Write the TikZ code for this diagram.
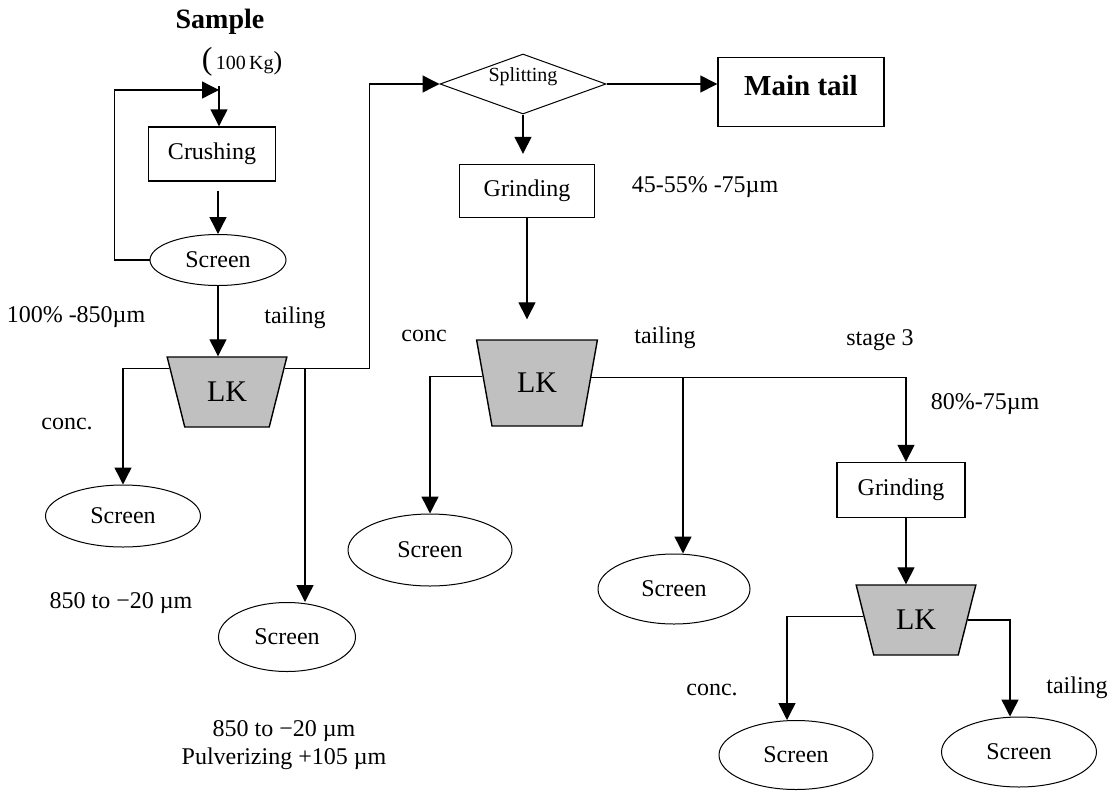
\documentclass[tikz,border=0pt]{standalone}
\usepackage{fontspec}
\setmainfont{Liberation Serif}
\usetikzlibrary{arrows.meta,shapes.geometric,calc}
\definecolor{lkgray}{RGB}{192,192,192}
\begin{document}
\begin{tikzpicture}[x=0.5pt,y=-0.5pt,line width=0.7pt,
    >={Triangle[length=8.5pt,width=8.5pt]},
    box/.style={draw,rectangle,inner sep=0pt,font=\fontsize{12}{14}\selectfont},
    screen/.style={draw,ellipse,line width=0.5pt,inner sep=0pt,font=\fontsize{12}{14}\selectfont},
    lk/.style={draw,fill=lkgray,trapezium,shape border rotate=180,trapezium stretches=true,
      trapezium angle=67,minimum width=60pt,minimum height=35pt,inner sep=0pt,font=\fontsize{15}{16}\selectfont},
    lbl/.style={inner sep=0pt,font=\fontsize{12}{14}\selectfont}]
                      \useasboundingbox (0,0) rectangle (1114,798);
                      \node[font=\fontsize{14}{16}\selectfont\bfseries] (sample) at (220,22) {Sample};
                      \node (kg) at (242,62) {{\fontsize{16}{16}\selectfont(}\,{\fontsize{10}{12}\selectfont 100\,Kg}{\fontsize{13}{16}\selectfont)}};
                      \coordinate (feed) at (219,90);
                      \node[box,minimum width=63.5pt,minimum height=27pt] (crush) at (212,154) {Crushing};
                      \node[screen,minimum width=68pt,minimum height=25.5pt] (scr1) at (218,260) {Screen};
                      \node[lk] (lk1) at (227,392) {LK};
                      \node[screen,minimum width=77.5pt,minimum height=31pt] (scr2) at (123,516) {Screen};
                      \node[screen,minimum width=68.5pt,minimum height=34.5pt] (scr3) at (287,637) {Screen};
                      \node[diamond,draw,line width=0.5pt,minimum width=83pt,minimum height=30pt,inner sep=0pt,
                        label={[font=\fontsize{10}{12}\selectfont,yshift=3.5pt]center:Splitting}] (split) at (523,84) {};
                      \node[box,minimum width=83pt,minimum height=34.5pt,
                        label={[font=\fontsize{14.5}{16}\selectfont\bfseries,yshift=3pt]center:Main tail}] (main) at (801,92) {};
                      \node[box,minimum width=67.5pt,minimum height=26.5pt] (grind1) at (527,191) {Grinding};
                      \node[lk,minimum width=60.5pt,minimum height=43pt,trapezium angle=70.8] (lk2) at (537,383) {LK};
                      \node[screen,minimum width=82pt,minimum height=36pt] (scr4) at (430,550) {Screen};
                      \node[screen,minimum width=76pt,minimum height=35pt] (scr5) at (674,589) {Screen};
                      \node[box,minimum width=64pt,minimum height=27.5pt] (grind2) at (901,490) {Grinding};
                      \node[lk] (lk3) at (916,620) {LK};
                      \node[screen,minimum width=77pt,minimum height=34.5pt] (scr6) at (796,755) {Screen};
                      \node[screen,minimum width=77.5pt,minimum height=35pt] (scr7) at (1019,752) {Screen};
                      \node[lbl] (pct1) at (76,317) {100\% -850µm};
                      \node[lbl] (tail1) at (295,318) {tailing};
                      \node[lbl] (conc1) at (67,424) {conc.};
                      \node[lbl] (size1) at (121,603) {850 to −20 µm};
                      \node[lbl,align=center] (size2) at (284,745) {850 to −20 µm\\Pulverizing +105 µm};
                      \node[lbl] (pct2) at (705,187) {45-55\% -75µm};
                      \node[lbl] (conc2) at (424,336) {conc};
                      \node[lbl] (tail2) at (665,338) {tailing};
                      \node[lbl] (stage) at (880,340) {stage 3};
                      \node[lbl] (pct3) at (985,404) {80\%-75µm};
                      \node[lbl] (conc3) at (712,690) {conc.};
                      \node[lbl] (tail3) at (1077,688) {tailing};
                      \coordinate (j1) at (305,0);
                      \coordinate (j2) at (683,0);
                      \coordinate (j3) at (906,0);
                      \coordinate (j4) at (787,0);
                      \coordinate (j5) at (1010,0);
                      \draw[->] ([yshift=2pt]feed) -- (feed |- crush.north);
                      \draw[->] (scr1.west) -- ++(-35,0) |- (feed);
                      \draw[->] ($(crush.south -| scr1.north)+(0,9)$) -- (scr1.north);
                      \draw[->] (scr1.south) -- (scr1.south |- lk1.north);
                      \draw[->] (lk1.158) -| (scr2.north);
                      \draw[->] (lk1.22) -| ($(split.west)+(-70,0)$) -- (split.west);
                      \draw[->] (lk1.22 -| j1) -- (j1 |- scr3.north);
                      \draw[->] (split.east) -- (split.east -| main.west);
                      \draw[->] (split.south) -- ($(split.south |- grind1.north)+(0,-10)$);
                      \draw[->] (grind1.south) -- ($(grind1.south |- lk2.north)+(0,-20)$);
                      \draw[->] (lk2.173) -| (scr4.north);
                      \draw[->] (lk2.6) -| (j3 |- grind2.north);
                      \draw[->] (lk2.6 -| j2) -- (j2 |- scr5.north);
                      \draw[->] (grind2.south -| j3) -- (j3 |- lk3.north);
                      \draw[->] (lk3.176) -| (j4 |- scr6.north);
                      \draw[->] (lk3.east) -| (j5 |- scr7.north);
                  \end{tikzpicture}
\end{document}
